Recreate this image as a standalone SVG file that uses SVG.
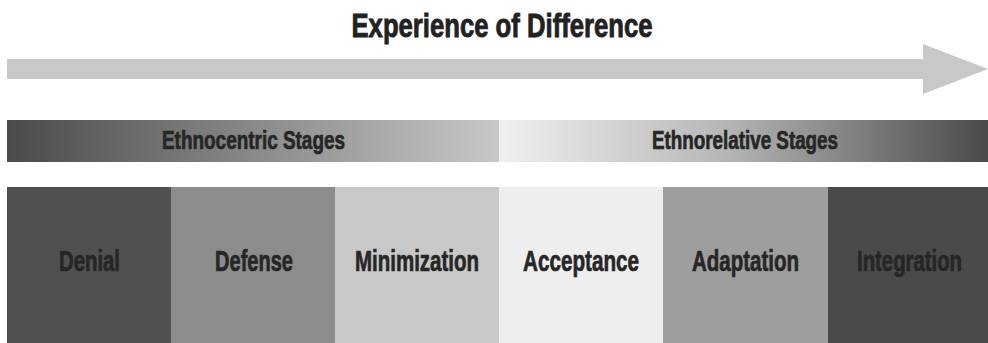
<svg xmlns="http://www.w3.org/2000/svg" width="988" height="343" viewBox="0 0 988 343">
  <defs>
    <linearGradient id="gEthnoC" x1="0" y1="0" x2="1" y2="0">
      <stop offset="0" stop-color="#4a4a4a"/>
      <stop offset="1" stop-color="#c8c8c8"/>
    </linearGradient>
    <linearGradient id="gEthnoR" x1="0" y1="0" x2="1" y2="0">
      <stop offset="0" stop-color="#f0f0f0"/>
      <stop offset="0.45" stop-color="#b8b8b8"/>
      <stop offset="1" stop-color="#4a4a4a"/>
    </linearGradient>
    <style>
      text { font-family: "Liberation Sans", Arial, sans-serif; font-weight: bold; fill: #262626; stroke: #262626; stroke-width: 0.7px; text-anchor: middle; }
      .title { font-size: 34px; fill: #222222; stroke: #222222; stroke-width: 0.9px; }
      .band { font-size: 25px; }
      .stage { font-size: 29px; }
    </style>
  </defs>
  <rect width="988" height="343" fill="#ffffff"/>

  <text class="title" x="502" y="37" textLength="301" lengthAdjust="spacingAndGlyphs">Experience of Difference</text>

  <g id="connectors">
    <polygon points="7,59 923,59 923,44 988,69 923,94 923,79 7,79" fill="#c8c8c8"/>
  </g>

  <g id="ethnocentric">
    <rect x="7" y="120" width="492" height="42" fill="url(#gEthnoC)"/>
    <text class="band" x="253.5" y="149" textLength="183" lengthAdjust="spacingAndGlyphs">Ethnocentric Stages</text>
  </g>
  <g id="ethnorelative">
    <rect x="499" y="120" width="489" height="42" fill="url(#gEthnoR)"/>
    <text class="band" x="745" y="149" textLength="186" lengthAdjust="spacingAndGlyphs">Ethnorelative Stages</text>
  </g>

  <g id="denial">
    <rect x="7" y="187" width="164" height="156" fill="#505050"/>
    <text class="stage" x="89.5" y="271" textLength="61" lengthAdjust="spacingAndGlyphs">Denial</text>
  </g>
  <g id="defense">
    <rect x="171" y="187" width="164" height="156" fill="#8c8c8c"/>
    <text class="stage" x="254" y="271" textLength="78" lengthAdjust="spacingAndGlyphs">Defense</text>
  </g>
  <g id="minimization">
    <rect x="335" y="187" width="164" height="156" fill="#c8c8c8"/>
    <text class="stage" x="417" y="271" textLength="124" lengthAdjust="spacingAndGlyphs">Minimization</text>
  </g>
  <g id="acceptance">
    <rect x="499" y="187" width="164" height="156" fill="#eeeeee"/>
    <text class="stage" x="581" y="271" textLength="116" lengthAdjust="spacingAndGlyphs">Acceptance</text>
  </g>
  <g id="adaptation">
    <rect x="663" y="187" width="165" height="156" fill="#9e9e9e"/>
    <text class="stage" x="745.5" y="271" textLength="107" lengthAdjust="spacingAndGlyphs">Adaptation</text>
  </g>
  <g id="integration">
    <rect x="828" y="187" width="160" height="156" fill="#4a4a4a"/>
    <text class="stage" x="909.5" y="271" textLength="105" lengthAdjust="spacingAndGlyphs">Integration</text>
  </g>
</svg>
